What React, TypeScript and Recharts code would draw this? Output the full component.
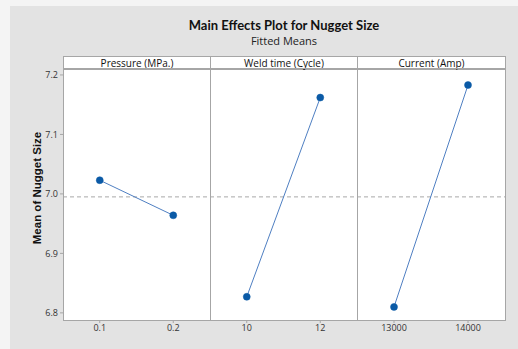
import { LineChart, Line, XAxis, YAxis, ReferenceLine } from "recharts";

// fitted means per factor level
const pressureLevels = [0.1, 0.2];
const pressureMeans = [7.023, 6.964];
const weldLevels = [10, 12];
const weldMeans = [6.827, 7.162];
const currentLevels = [13000, 14000];
const currentMeans = [6.81, 7.183];

const grandMean = 6.995;
const yTicks = [6.8, 6.9, 7.0, 7.1, 7.2];
const yDomain: [number, number] = [6.788, 7.21];

const panelTitles = ["Pressure (MPa.)", "Weld time (Cycle)", "Current (Amp)"];

const FONT = "'Open Sans', 'Noto Sans', sans-serif";
const GRID = "#a6a6a6";
const tickStyle = { fontSize: 9, fill: "#333", fontFamily: FONT };

const PLOT_TOP = 69;
const PLOT_BOTTOM = 320;
const STRIP_TOP = 56;
const H = 349;

interface PanelProps {
  left: number;
  width: number;
  levels: number[];
  means: number[];
  domain: [number, number];
  ticks: number[];
  withYAxis?: boolean;
}

function Panel({ left, width, levels, means, domain, ticks, withYAxis }: PanelProps) {
  const data = levels.map((x, i) => ({ x, y: means[i] }));
  return (
    <div style={{ position: "absolute", left, top: 0 }}>
      <LineChart
        width={width}
        height={H}
        data={data}
        margin={{ top: PLOT_TOP, right: 0, left: 0, bottom: H - PLOT_BOTTOM - 22 }}
      >
        <XAxis
          dataKey="x"
          type="number"
          domain={domain}
          ticks={ticks}
          height={22}
          axisLine={false}
          tickLine={{ stroke: GRID }}
          tickSize={3}
          tick={tickStyle}
          allowDataOverflow
        />
        <YAxis
          type="number"
          domain={yDomain}
          ticks={yTicks}
          hide={!withYAxis}
          width={withYAxis ? 63 : 0}
          axisLine={false}
          tickLine={{ stroke: GRID }}
          tickSize={3}
          tick={tickStyle}
          tickFormatter={(v: number) => v.toFixed(1)}
          allowDataOverflow
        />
        <ReferenceLine y={grandMean} stroke="#a8a8a8" strokeDasharray="4 3" />
        <Line
          dataKey="y"
          stroke="#4f7fc2"
          strokeWidth={1}
          dot={{ r: 3.5, fill: "#0b5aa6", stroke: "#0b5aa6", strokeWidth: 0.5 }}
          isAnimationActive={false}
        />
      </LineChart>
    </div>
  );
}

export default function App() {
  const panels = [
    { left: 63, width: 147 },
    { left: 210, width: 147 },
    { left: 357, width: 148 },
  ];
  return (
    <div style={{ position: "relative", width: 518, height: 349, background: "#f4f4f4", fontFamily: FONT }}>
      <style>{"body{margin:0}"}</style>
      <div style={{ position: "absolute", left: 10, top: 6, right: 0, bottom: 0, background: "#e3e3e3" }} />
      <div style={{ position: "absolute", left: 0, width: 568, top: 17, textAlign: "center", fontSize: 13, fontWeight: 700, color: "#111", fontFamily: "Lato, sans-serif" }}>
        Main Effects Plot for Nugget Size
      </div>
      <div style={{ position: "absolute", left: 0, width: 568, top: 33, textAlign: "center", fontSize: 11, color: "#222" }}>
        Fitted Means
      </div>
      {/* plot backgrounds and strip headers */}
      {panels.map((p, i) => (
        <div key={"bg" + i}>
          <div style={{ position: "absolute", left: p.left, top: PLOT_TOP, width: p.width, height: PLOT_BOTTOM - PLOT_TOP, background: "#fff" }} />
          <div
            style={{
              position: "absolute", left: p.left, top: STRIP_TOP, width: p.width - 1, height: PLOT_TOP - STRIP_TOP - 1,
              background: "#fff", border: `1px solid ${GRID}`, borderRight: i === 2 ? `1px solid ${GRID}` : "none",
              fontSize: 10, lineHeight: "12px", textAlign: "center", color: "#111",
            }}
          >
            {panelTitles[i]}
          </div>
        </div>
      ))}
      <div style={{ position: "absolute", left: 37, top: 188, width: 0, height: 0 }}>
        <div style={{ position: "absolute", left: -80, top: -8, width: 160, textAlign: "center", transform: "rotate(-90deg)", fontSize: 11.5, fontWeight: 700, color: "#111", fontFamily: "'Liberation Sans', Arial, sans-serif", lineHeight: "16px", whiteSpace: "nowrap" }}>
          Mean of Nugget Size
        </div>
      </div>
      <Panel left={0} width={210} levels={pressureLevels} means={pressureMeans} domain={[0.05, 0.25]} ticks={pressureLevels} withYAxis />
      <Panel left={210} width={147} levels={weldLevels} means={weldMeans} domain={[9, 13]} ticks={weldLevels} />
      <Panel left={357} width={148} levels={currentLevels} means={currentMeans} domain={[12500, 14500]} ticks={currentLevels} />
      {/* panel frames */}
      {panels.map((p, i) => (
        <div
          key={"fr" + i}
          style={{
            position: "absolute", left: p.left, top: PLOT_TOP - 1, width: p.width - 1, height: PLOT_BOTTOM - PLOT_TOP,
            border: `1px solid ${GRID}`, borderRight: i === 2 ? `1px solid ${GRID}` : "none", pointerEvents: "none",
          }}
        />
      ))}
    </div>
  );
}
